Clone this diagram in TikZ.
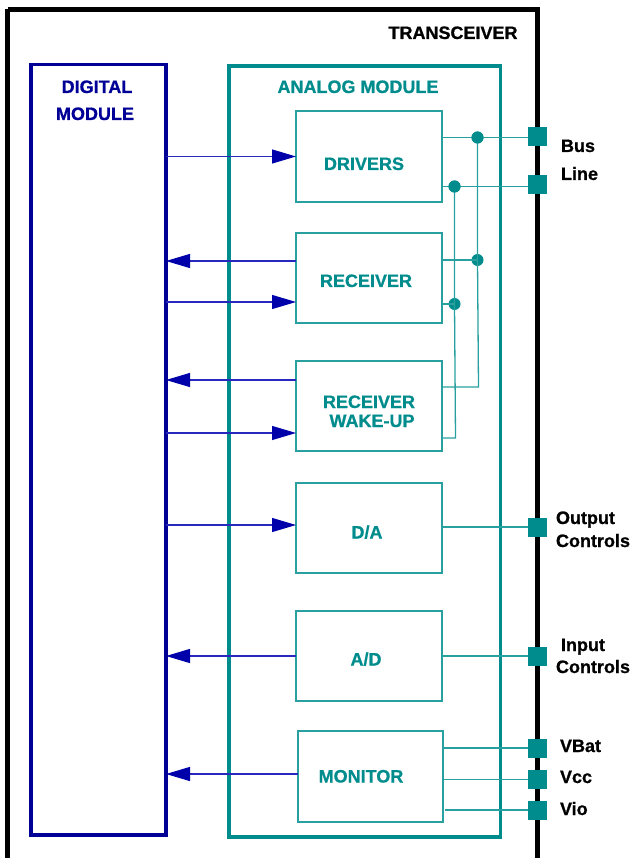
\documentclass[tikz,border=0pt]{standalone}
\usepackage{fontspec}
\setmainfont{Liberation Sans}[BoldFeatures={FakeBold=0.8}]
\usetikzlibrary{arrows.meta,calc}
\definecolor{tealc}{RGB}{0,140,140}
\definecolor{tealthin}{RGB}{40,160,160}
\definecolor{navyc}{RGB}{0,0,150}
\definecolor{bluearr}{RGB}{40,40,190}
\definecolor{arrhead}{RGB}{0,0,170}
\begin{document}
\begin{tikzpicture}[x=1pt,y=-1pt,
  every node/.style={inner sep=0pt, outer sep=0pt},
  lbl/.style={font=\fontsize{18}{19}\selectfont\bfseries, anchor=base},
  tlbl/.style={lbl, text=tealc},
  blk/.style={draw=tealthin, line width=1.3, rectangle, minimum width=146, minimum height=90},
  pin/.style={fill=tealc, rectangle, minimum width=19, minimum height=19},
  dot/.style={fill=tealc, circle, minimum size=12},
  wire/.style={draw=tealthin, line width=1.3},
  arr/.style={draw=bluearr, line width=1.2, -{Triangle[length=24,width=14,color=arrhead,fill=arrhead]}}
]
\useasboundingbox (0,0) rectangle (631,858);
\clip (0,0) rectangle (631,858);

% outer transceiver box
\draw[line width=4.5, black] (7.5,9.5) -- (537.5,9.5) -- (537.5,880) (7.5,9.5) -- (7.5,880);
\node[lbl, text=black] (ltrx) at (453,39) {TRANSCEIVER};

% digital module
\node[draw=navyc, line width=3.2, rectangle, minimum width=135, minimum height=770.5] (dig) at (98.5,449.75) {};
\node[lbl, text=navyc] (ldig1) at (97,93) {DIGITAL};
\node[lbl, text=navyc] (ldig2) at (95,120) {MODULE};

% analog module
\node[draw=tealc, line width=3.5, rectangle, minimum width=271.5, minimum height=771] (ana) at (364.75,451.5) {};
\node[tlbl] (lana) at (358,93) {ANALOG MODULE};

% inner blocks
\node[blk, minimum height=91] (drv) at (369,156.5) {};
\node[blk] (rcv) at (369,278) {};
\node[blk] (wak) at (369,406) {};
\node[blk] (da) at (369,528) {};
\node[blk] (ad) at (369,656) {};
\node[blk, minimum width=145, minimum height=91] (mon) at (370.5,776.5) {};

\node[tlbl] (ldrv) at (364,170) {DRIVERS};
\node[tlbl] (lrcv) at (366,287) {RECEIVER};
\node[tlbl] (lwak1) at (369,408) {RECEIVER};
\node[tlbl] (lwak2) at (372,427) {WAKE-UP};
\node[tlbl] (lda) at (367,538.5) {D/A};
\node[tlbl] (lad) at (366,665.5) {A/D};
\node[tlbl] (lmon) at (361,782.5) {MONITOR};

% junction dots and corners
\node[dot] (jb1) at (477.5,137.5) {};
\node[dot] (jb2) at (477.5,260) {};
\node[dot] (jl1) at (454.5,186.5) {};
\node[dot] (jl2) at (454.5,304) {};
\coordinate (cb) at (478.5,387);
\coordinate (cl) at (455.5,438);

% pins
\node[pin] (pbus) at (537.5,137) {};
\node[pin] (pline) at (537.5,185) {};
\node[pin] (pout) at (537.5,527) {};
\node[pin] (pin) at (537.5,656) {};
\node[pin] (pvbat) at (537.5,748) {};
\node[pin] (pvcc) at (537.5,779.5) {};
\node[pin] (pvio) at (537.5,810) {};

% wires
\draw[wire] (drv.east |- jb1) -- (pbus.west |- jb1);
\draw[wire] (drv.east |- jl1) -- (pline.west |- jl1);
\draw[wire] (jb1.center) -- (jb2.center) -- (cb) -- (wak.east |- cb);
\draw[wire] (jl1.center) -- (jl2.center) -- (cl) -- (wak.east |- cl);
\draw[wire] (rcv.east |- jb2) -- (jb2.center);
\draw[wire] (rcv.east |- jl2) -- (jl2.center);
\draw[wire] (da.east |- pout) -- (pout.west);
\draw[wire] (ad.east |- pin) -- (pin.west);
\draw[wire] (mon.east |- pvbat) -- (pvbat.west);
\draw[wire] (mon.east |- pvcc) -- (pvcc.west);
\draw[wire] ([xshift=2pt]mon.east |- pvio) -- (pvio.west);
\node[dot] at (jb1) {};
\node[dot] at (jl1) {};
\node[pin] at (pbus) {};
\node[pin] at (pline) {};

% pin labels
\node[lbl, anchor=base west] (lbus) at (561,152) {Bus};
\node[lbl, anchor=base west] (lline) at (561,180) {Line};
\node[lbl, anchor=base west] (lout1) at (556,524) {Output};
\node[lbl, anchor=base west] (lout2) at (556,547) {Controls};
\node[lbl, anchor=base west] (lin1) at (561,651) {Input};
\node[lbl, anchor=base west] (lin2) at (556,673) {Controls};
\node[lbl, anchor=base west] (lvbat) at (560,752) {VBat};
\node[lbl, anchor=base west] (lvcc) at (560,783) {Vcc};
\node[lbl, anchor=base west] (lvio) at (560,815) {Vio};

% arrows between modules
\coordinate (a1) at (drv.west);
\coordinate (r1) at ([yshift=17pt]rcv.west);
\coordinate (r2) at ([yshift=-24pt]rcv.west);
\coordinate (w1) at ([yshift=26pt]wak.west);
\coordinate (w2) at ([yshift=-27pt]wak.west);
\coordinate (d1) at ([yshift=3pt]da.west);
\coordinate (m1) at ([yshift=2.5pt]mon.west);
\draw[arr] (dig.east |- a1) -- (a1);
\draw[arr] (r1) -- (dig.east |- r1);
\draw[arr] (dig.east |- r2) -- (r2);
\draw[arr] (w1) -- (dig.east |- w1);
\draw[arr] (dig.east |- w2) -- (w2);
\draw[arr] (dig.east |- d1) -- (d1);
\draw[arr] (ad.west) -- (dig.east |- ad.west);
\draw[arr] (m1) -- (dig.east |- m1);
\end{tikzpicture}
\end{document}
